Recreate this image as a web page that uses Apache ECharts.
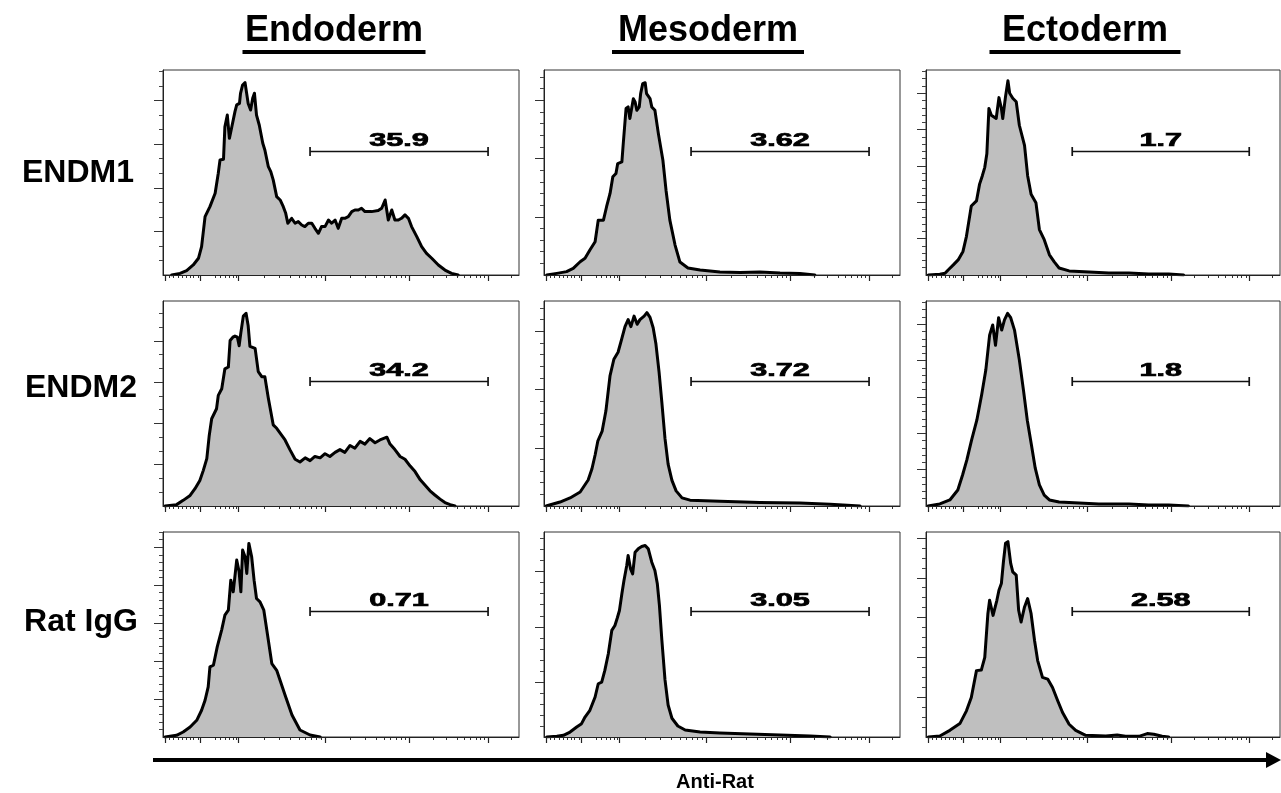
<!DOCTYPE html>
<html><head><meta charset="utf-8">
<script src="https://cdn.jsdelivr.net/npm/echarts@6/dist/echarts.min.js"></script>
<style>html,body{margin:0;padding:0;background:#fff}#c{width:1281px;height:793px}</style>
</head><body><div id="c"></div>
<script>
// ---------- data ----------
const columnTitles = ['Endoderm', 'Mesoderm', 'Ectoderm'];
const rowTitles = ['ENDM1', 'ENDM2', 'Rat IgG'];
const axisTitle = 'Anti-Rat';
const gatePercent = [['35.9', '3.62', '1.7'], ['34.2', '3.72', '1.8'], ['0.71', '3.05', '2.58']];
const gateRange = [423, 935];               // gate limits (display channel)
const gateLevel = [[8.53, 10.65, 17.06], [9.09, 10.74, 17.2], [16.6, 11.44, 12.67]]; // gate height (counts)
const yMaxCount = [[14.1, 17.6, 28.2], [14.9, 17.6, 28.2], [27.0, 18.6, 20.6]];
const yMajorStep = [[3, 5, 5], [3, 5, 5], [5, 5, 4]];
const xMajorTicks = [6, 107, 216, 466, 708, 935];
const xMinorTicks = [17, 29, 43, 55, 66, 78, 86, 101, 150, 164, 178, 190, 201, 210,
  291, 335, 366, 391, 410, 427, 442, 454,
  539, 582, 612, 635, 654, 670, 685, 697,
  776, 816, 845, 867, 885, 900, 913, 925, 1003];

// ENDM1
const endm1EndoX = [25,49,68,87,102,111,121,135,150,159,164,174,178,185,191,198,207,212,220,223,229,236,241,245,252,258,263,269,277,287,293,303,310,317,327,337,346,353,359,370,380,389,399,408,418,428,437,447,456,466,476,485,495,504,514,523,533,543,552,562,571,581,600,619,629,639,648,658,667,677,686,696,706,715,730,744,758,773,792,811,830,849];
const endm1EndoY = [0,0.11,0.30,0.69,1.15,1.95,4.01,4.70,5.62,7.0,7.91,7.96,10.2,11.0,9.4,10.2,11.24,11.7,11.8,12.5,13.07,13.23,13.19,11.8,11.35,12.16,12.5,11.0,10.3,9.06,8.6,7.45,7.11,6.54,5.39,5.16,4.70,4.24,3.56,3.90,3.56,3.67,3.44,3.33,3.56,3.56,3.21,2.87,3.33,3.33,3.78,3.56,3.78,3.21,3.90,3.90,4.01,4.36,4.47,4.47,4.59,4.36,4.36,4.43,4.59,5.16,3.78,4.47,3.78,3.78,3.90,4.13,3.90,3.33,2.64,1.95,1.49,1.15,0.69,0.34,0.11,0];
const endm1MesoX = [8,37,65,84,104,118,132,147,156,171,180,190,198,207,212,224,228,236,242,247,257,262,267,274,278,284,291,295,305,310,319,329,342,351,362,377,391,414,449,506,564,621,679,736,779];
const endm1MesoY = [0,0.14,0.29,0.57,1.14,1.43,2.14,2.86,4.71,4.71,5.86,7.0,8.43,8.71,9.57,9.71,11.29,14.29,14.43,13.43,15.14,14.86,14.14,14.43,15.57,16.43,16.51,15.57,15.14,14.43,14.14,12.14,9.85,7.28,4.71,2.57,1.11,0.6,0.43,0.26,0.21,0.26,0.17,0.13,0];
const endm1EctoX = [7,40,55,64,79,93,107,117,131,146,155,163,170,176,182,189,203,211,218,222,230,237,242,251,261,270,285,294,304,318,328,342,357,371,385,414,472,529,587,644,702,745];
const endm1EctoY = [0,0.09,0.23,0.69,1.39,2.08,3.24,5.32,9.49,10.19,12.5,13.66,14.81,16.67,22.92,21.99,21.53,24.4,22.92,21.53,24.54,26.71,25.0,24.31,23.84,20.6,17.82,13.66,11.11,9.95,6.25,4.86,2.78,1.8,0.97,0.56,0.42,0.28,0.28,0.14,0.14,0];
// ENDM2
const endm2EndoX = [6,39,58,78,92,106,116,126,133,140,154,159,169,178,188,193,201,207,214,219,224,231,239,245,250,265,274,284,293,303,317,327,351,365,380,394,409,423,437,452,466,480,495,509,523,538,552,567,581,595,610,624,644,653,667,682,696,711,725,740,754,768,782,797,811,826,840];
const endm2EndoY = [0,0.1,0.41,0.77,1.26,1.86,2.59,3.44,5.13,6.34,7.07,8.04,8.52,9.97,10.1,12.03,12.27,12.35,12.27,11.65,12.6,13.8,14.0,13.1,11.6,11.46,9.77,9.4,9.4,7.83,5.9,5.65,4.8,4.1,3.4,3.2,3.5,3.3,3.6,3.5,3.8,3.6,3.9,4.1,3.9,4.4,4.2,4.7,4.5,4.9,4.6,4.8,5.0,4.5,4.1,3.6,3.4,2.9,2.5,1.9,1.5,1.1,0.8,0.5,0.25,0.1,0];
const endm2MesoX = [6,46,75,104,127,138,147,155,167,178,190,201,213,224,233,242,250,259,268,276,288,296,305,314,322,331,339,348,357,368,380,397,420,506,621,736,823,909];
const endm2MesoY = [0,0.34,0.69,1.2,2.23,3.2,4.38,5.6,6.4,8.15,11.2,12.6,13.2,14.4,15.4,16.0,15.4,16.3,15.6,16.0,16.3,16.6,16.2,15.3,13.9,11.5,8.9,5.8,3.6,2.2,1.3,0.7,0.5,0.4,0.3,0.25,0.15,0];
const endm2EctoX = [6,40,69,92,106,118,132,147,161,173,184,193,201,210,219,227,236,245,256,270,282,293,305,316,328,342,357,385,443,500,587,644,702,759];
const endm2EctoY = [0,0.28,0.83,2.2,4.3,6.3,9.1,11.8,15.3,18.7,23.5,24.9,22.1,25.9,24.2,25.6,26.5,25.9,24.2,20.1,15.9,11.8,8.4,5.2,2.9,1.5,0.83,0.55,0.41,0.28,0.28,0.14,0.14,0];
// Rat IgG
const ratEndoX = [6,39,58,78,97,111,121,130,135,145,156,169,178,188,195,202,212,219,224,229,236,241,247,255,262,269,279,290,303,313,327,351,371,394,423,452];
const ratEndoY = [0,0.22,0.66,1.32,2.2,3.52,4.84,6.59,9.23,9.45,11.87,14.15,16.04,16.7,20.66,19.12,23.3,21.76,19.12,24.62,23.74,21.54,25.5,23.74,20.66,18.24,17.8,16.7,12.75,9.67,8.79,5.54,2.9,0.92,0.26,0];
const ratMesoX = [8,37,56,75,94,108,118,132,147,156,166,175,185,195,204,211,217,224,230,238,242,249,255,262,271,281,291,300,310,319,326,332,339,348,357,368,385,406,449,506,592,679,765,823];
const ratMesoY = [0,0.06,0.15,0.45,0.91,1.21,1.81,2.42,3.63,4.83,4.98,6.04,7.55,9.67,10.12,10.82,11.48,12.99,14.2,15.56,16.47,15.26,14.8,16.77,17.07,17.28,17.37,17.07,15.86,15.11,13.9,11.94,8.8,5.2,2.9,1.7,1.0,0.63,0.45,0.36,0.27,0.18,0.09,0];
const ratEctoX = [7,40,69,98,117,131,146,160,170,179,184,194,205,211,218,224,230,237,245,251,261,268,275,285,294,304,314,323,337,352,366,381,395,414,433,462,520,553,577,616,640,659,683,702];
const ratEctoY = [0,0.1,0.67,1.35,2.63,3.97,6.67,6.73,8.01,12.39,13.74,12.22,13.74,14.75,15.42,17.61,19.46,19.63,17.44,16.6,16.26,12.73,11.55,13.07,13.91,12.39,9.7,7.68,5.99,5.82,4.98,3.64,2.46,1.28,0.67,0.17,0.1,0.2,0.07,0.07,0.34,0.27,0.07,0];

const panelX = [[endm1EndoX, endm1MesoX, endm1EctoX], [endm2EndoX, endm2MesoX, endm2EctoX], [ratEndoX, ratMesoX, ratEctoX]];
const panelY = [[endm1EndoY, endm1MesoY, endm1EctoY], [endm2EndoY, endm2MesoY, endm2EctoY], [ratEndoY, ratMesoY, ratEctoY]];

// ---------- layout ----------
const colLeft = [163, 544, 926];
const colWidth = [356, 356, 354];
const rowTop = [70, 301, 532];
const panelH = 205;
const FONT = '"Liberation Sans", Arial, Helvetica, sans-serif';
const INK = '#000';

const grids = [], xAxes = [], yAxes = [], series = [];
for (let r = 0; r < 3; r++) {
  for (let c = 0; c < 3; c++) {
    const i = r * 3 + c;
    grids.push({left: colLeft[c], top: rowTop[r], width: colWidth[c], height: panelH,
      show: true, borderColor: '#333', borderWidth: 1, backgroundColor: 'transparent'});
    const xBase = {type: 'value', gridIndex: i, min: 0, max: 1024, position: 'bottom',
      axisLabel: {show: false}, splitLine: {show: false}};
    xAxes.push(Object.assign({}, xBase, {z: 5,
      axisLine: {show: true, lineStyle: {color: '#222', width: 1}},
      axisTick: {show: true, inside: false, length: 6, customValues: xMajorTicks, lineStyle: {color: '#222', width: 1.2}}}));
    xAxes.push(Object.assign({}, xBase, {
      axisLine: {show: false},
      axisTick: {show: true, inside: false, length: 3, customValues: xMinorTicks, lineStyle: {color: '#333', width: 1}}}));
    const ym = yMaxCount[r][c], st = yMajorStep[r][c];
    const majors = [], minors = [];
    for (let v = 1; v <= Math.floor(ym + 1e-9); v++) { minors.push(v); if (v % st === 0) majors.push(v); }
    const yBase = {type: 'value', gridIndex: i, min: 0, max: ym, position: 'left',
      axisLabel: {show: false}, splitLine: {show: false}};
    yAxes.push(Object.assign({}, yBase, {z: 5,
      axisLine: {show: true, lineStyle: {color: '#222', width: 1}},
      axisTick: {show: true, inside: false, length: 9, customValues: majors, lineStyle: {color: '#333', width: 1}}}));
    yAxes.push(Object.assign({}, yBase, {
      axisLine: {show: false},
      axisTick: {show: true, inside: false, length: 4, customValues: minors, lineStyle: {color: '#444', width: 1}}}));

    const xs = panelX[r][c], ys = panelY[r][c];
    series.push({type: 'line', xAxisIndex: 2 * i, yAxisIndex: 2 * i,
      data: xs.map((x, k) => [x, ys[k]]), symbol: 'none', smooth: false,
      lineStyle: {color: '#000', width: 3, join: 'round', cap: 'round'},
      areaStyle: {color: '#bfbfbf', opacity: 1}, z: 2});

    const label = gatePercent[r][c];
    series.push({type: 'custom', xAxisIndex: 2 * i, yAxisIndex: 2 * i, clip: false, z: 6,
      encode: {x: [0, 1], y: 2},
      data: [[gateRange[0], gateRange[1], gateLevel[r][c]]],
      renderItem: function (params, api) {
        const a = api.coord([api.value(0), api.value(2)]);
        const b = api.coord([api.value(1), api.value(2)]);
        const y = Math.round(a[1]) + 0.5;
        const ls = {stroke: '#111', lineWidth: 1.7};
        return {type: 'group', children: [
          {type: 'line', shape: {x1: a[0], y1: y, x2: b[0], y2: y}, style: ls},
          {type: 'line', shape: {x1: a[0], y1: y - 4.5, x2: a[0], y2: y + 4.5}, style: ls},
          {type: 'line', shape: {x1: b[0], y1: y - 4.5, x2: b[0], y2: y + 4.5}, style: ls},
          {type: 'text', x: (a[0] + b[0]) / 2, y: y - 10, scaleX: 1.7,
            style: {text: label, font: 'bold 18px ' + FONT, fill: INK, stroke: INK, lineWidth: 0.7,
              textAlign: 'center', textVerticalAlign: 'middle'}}
        ]};
      }});
  }
}

const graphics = [];
const titleCenter = [334, 708, 1085];
const titleUnder = [183, 192, 191];
columnTitles.forEach((t, c) => {
  graphics.push({type: 'text', x: titleCenter[c], y: 31,
    style: {text: t, font: 'bold 36px ' + FONT, fill: INK, textAlign: 'center', textVerticalAlign: 'middle'}});
  graphics.push({type: 'rect', shape: {x: titleCenter[c] - titleUnder[c] / 2, y: 50, width: titleUnder[c], height: 4},
    style: {fill: INK}});
});
const rowLabelY = [173, 388, 622];
const rowLabelX = [78, 81, 81];
rowTitles.forEach((t, r) => {
  graphics.push({type: 'text', x: rowLabelX[r], y: rowLabelY[r],
    style: {text: t, font: 'bold 32px ' + FONT, fill: INK, textAlign: 'center', textVerticalAlign: 'middle'}});
});
graphics.push({type: 'line', shape: {x1: 153, y1: 760, x2: 1270, y2: 760}, style: {stroke: INK, lineWidth: 4}});
graphics.push({type: 'polygon', shape: {points: [[1266, 752], [1281, 760], [1266, 768]]}, style: {fill: INK}});
graphics.push({type: 'text', x: 715, y: 782,
  style: {text: axisTitle, font: 'bold 20px ' + FONT, fill: INK, textAlign: 'center', textVerticalAlign: 'middle'}});

const chart = echarts.init(document.getElementById('c'), null, {renderer: 'canvas'});
chart.setOption({animation: false, backgroundColor: '#fff', grid: grids, xAxis: xAxes, yAxis: yAxes, series: series, graphic: graphics});
</script></body></html>
